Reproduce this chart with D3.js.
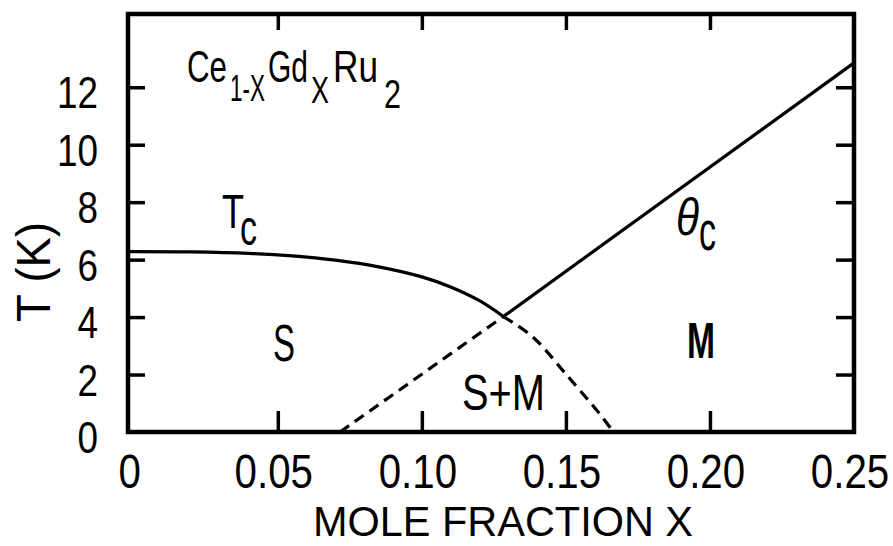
<!DOCTYPE html>
<html>
<head>
<meta charset="utf-8">
<script src="https://cdn.jsdelivr.net/npm/d3@7/dist/d3.min.js"></script>
<style>
  html, body { margin: 0; padding: 0; background: #fff; }
  svg { display: block; }
  text { font-family: "Liberation Sans", Arial, sans-serif; fill: #000; }
</style>
</head>
<body>
<script>
// ---- data ----
const xTickValues = [0, 0.05, 0.10, 0.15, 0.20, 0.25];
const xTickLabels = ["0", "0.05", "0.10", "0.15", "0.20", "0.25"];
const yTickValues = [0, 2, 4, 6, 8, 10, 12];
const yTickLabels = ["0", "2", "4", "6", "8", "10", "12"];

// Tc (superconducting) boundary, solid part
const tcSolidX = [-0.002, 0.02, 0.04, 0.055, 0.07, 0.085, 0.10, 0.11, 0.12, 0.1283];
const tcSolidT = [6.28, 6.27, 6.22, 6.13, 5.98, 5.75, 5.40, 5.05, 4.57, 4.02];
// Tc boundary, dashed continuation
const tcDashX = [0.1283, 0.1386, 0.1503, 0.1618, 0.1665];
const tcDashT = [4.02, 3.30, 1.98, 0.62, 0.0];
// theta_c (magnetic) boundary, dashed part
const thDashX = [0.0716, 0.1283];
const thDashT = [0.0, 4.02];
// theta_c boundary, solid part
const thSolidX = [0.1283, 0.25];
const thSolidT = [4.02, 12.85];

// ---- layout ----
const W = 893, H = 546;
const svg = d3.select("body").append("svg").attr("width", W).attr("height", H);

const x = d3.scaleLinear().domain([-0.002, 0.25]).range([128, 854]);
const y = d3.scaleLinear().domain([0, 14.55]).range([432, 14]);

const pts = (xs, ts) => xs.map((v, i) => [v, ts[i]]);
const line = d3.line().x(d => x(d[0])).y(d => y(d[1])).curve(d3.curveCatmullRom.alpha(0.5));

// ticks via d3 axes (inward, no labels)
const innerX = xTickValues.slice(1, -1);
const innerY = yTickValues.slice(1);
function styleAxis(g) {
  g.select(".domain").remove();
  g.selectAll(".tick line").attr("stroke", "#000").attr("stroke-width", 3.5);
  g.selectAll(".tick text").remove();
}
svg.append("g").attr("transform", `translate(0,${y(0)})`)
  .call(d3.axisBottom(x).tickValues(innerX).tickSizeInner(-21).tickSizeOuter(0).tickFormat(""))
  .call(styleAxis);
svg.append("g").attr("transform", `translate(0,${y.range()[1]})`)
  .call(d3.axisTop(x).tickValues(innerX).tickSizeInner(-16).tickSizeOuter(0).tickFormat(""))
  .call(styleAxis);
svg.append("g").attr("transform", `translate(${x.range()[0]},0)`)
  .call(d3.axisLeft(y).tickValues(innerY).tickSizeInner(-17).tickSizeOuter(0).tickFormat(""))
  .call(styleAxis);
svg.append("g").attr("transform", `translate(${x.range()[1]},0)`)
  .call(d3.axisRight(y).tickValues(innerY).tickSizeInner(-18).tickSizeOuter(0).tickFormat(""))
  .call(styleAxis);

// frame
svg.append("rect")
  .attr("x", x.range()[0]).attr("y", y.range()[1])
  .attr("width", x.range()[1] - x.range()[0]).attr("height", y(0) - y.range()[1])
  .attr("fill", "none").attr("stroke", "#000").attr("stroke-width", 4.5);

// curves
function drawCurve(data, dashed) {
  svg.append("path").datum(data).attr("d", line)
    .attr("fill", "none").attr("stroke", "#000").attr("stroke-width", 3.2)
    .attr("stroke-linecap", "butt")
    .attr("stroke-dasharray", dashed ? "11,7" : null);
}
drawCurve(pts(tcSolidX, tcSolidT), false);
drawCurve(pts(tcDashX, tcDashT), true);
drawCurve(pts(thDashX, thDashT), true);
drawCurve(pts(thSolidX, thSolidT), false);

// text helpers
function label(px, py, s, size, width, anchor, extra) {
  const t = svg.append("text")
    .attr("x", px).attr("y", py)
    .attr("font-size", size)
    .attr("text-anchor", anchor || "start")
    .text(s);
  if (width) t.attr("textLength", width).attr("lengthAdjust", "spacingAndGlyphs");
  if (extra) extra(t);
  return t;
}
// one text element made of positioned pieces (for sub-scripted labels)
function multi(parts) {
  const t = svg.append("text");
  parts.forEach(p => {
    const s = t.append("tspan")
      .attr("x", p.x).attr("y", p.y)
      .attr("font-size", p.size)
      .attr("textLength", p.w).attr("lengthAdjust", "spacingAndGlyphs")
      .text(p.s);
    if (p.italic) s.attr("font-style", "italic");
  });
  return t;
}
function scaled(px, py, s, size, sx, anchor) {
  return svg.append("text")
    .attr("transform", `translate(${px},${py}) scale(${sx},1)`)
    .attr("font-size", size)
    .attr("text-anchor", anchor)
    .text(s);
}

// tick labels
yTickValues.forEach((v, i) => scaled(98, y(v) + 21, yTickLabels[i], 45, 0.82, "end"));
xTickValues.forEach((v, i) => scaled(x(v) - 4, 488, xTickLabels[i], 48, 0.84, "middle"));

// axis titles
label(313, 536, "MOLE FRACTION X", 43, 380, "start");
svg.append("text")
  .attr("transform", "translate(50,272) rotate(-90)")
  .attr("font-size", 48).attr("text-anchor", "middle")
  .attr("textLength", 100).attr("lengthAdjust", "spacingAndGlyphs")
  .text("T (K)");

// compound title Ce1-xGdxRu2
multi([
  { s: "Ce",  x: 187, y: 82,  size: 45, w: 40 },
  { s: "1-X", x: 230, y: 101, size: 37, w: 35 },
  { s: "Gd",  x: 268, y: 82,  size: 45, w: 40 },
  { s: "X",   x: 311, y: 103, size: 37, w: 18 },
  { s: "Ru",  x: 333, y: 82,  size: 45, w: 45 },
  { s: "2",   x: 384, y: 108, size: 40, w: 17 }
]);

// curve labels
multi([
  { s: "T", x: 222, y: 228, size: 48, w: 22 },
  { s: "c", x: 240, y: 245, size: 50, w: 17 }
]);
multi([
  { s: "θ", x: 676, y: 235, size: 52, w: 23, italic: true },
  { s: "c", x: 699, y: 250, size: 56, w: 17 }
]);

// region labels
label(273, 361, "S", 52, 22);
label(462, 410, "S+M", 50, 83);
label(687, 358, "M", 50, 28, "start", t => t.attr("font-weight", "bold"));
</script>
</body>
</html>
